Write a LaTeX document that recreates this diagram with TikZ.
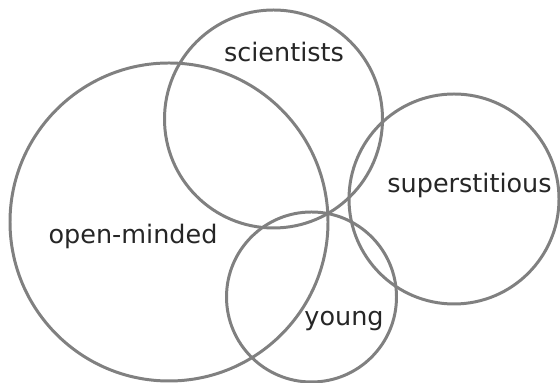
\documentclass[tikz,border=0pt]{standalone}
\usepackage{fontspec}
\setmainfont{DejaVu Sans}
\usetikzlibrary{positioning}

\tikzset{
  conjunto/.style={circle, draw=setgray, line width=1.7pt, inner sep=0pt},
  etiqueta/.style={font=\fontsize{14.5}{17}\selectfont, text=black!85}
}
\definecolor{setgray}{HTML}{808080}

\begin{document}
\begin{tikzpicture}
  \useasboundingbox (0,0) rectangle (11.2,7.66);
  % los cuatro conjuntos
  \node[conjunto, minimum size=6.36cm] (abierto) at (3.38,3.22) {};
  \node[conjunto, minimum size=4.36cm] (cientif) at (5.47,5.28) {};
  \node[conjunto, minimum size=4.20cm] (supers) at (9.08,3.68) {};
  \node[conjunto, minimum size=3.40cm] (joven) at (6.23,1.72) {};
  % nombres
  \node[etiqueta] (lab-abierto) at (2.66,2.94) {open-minded};
  \node[etiqueta] (lab-cientif) at (5.68,6.62) {scientists};
  \node[etiqueta] (lab-supers) at (9.39,3.96) {superstitious};
  \node[etiqueta] (lab-joven) at (6.88,1.24) {young};
\end{tikzpicture}
\end{document}
